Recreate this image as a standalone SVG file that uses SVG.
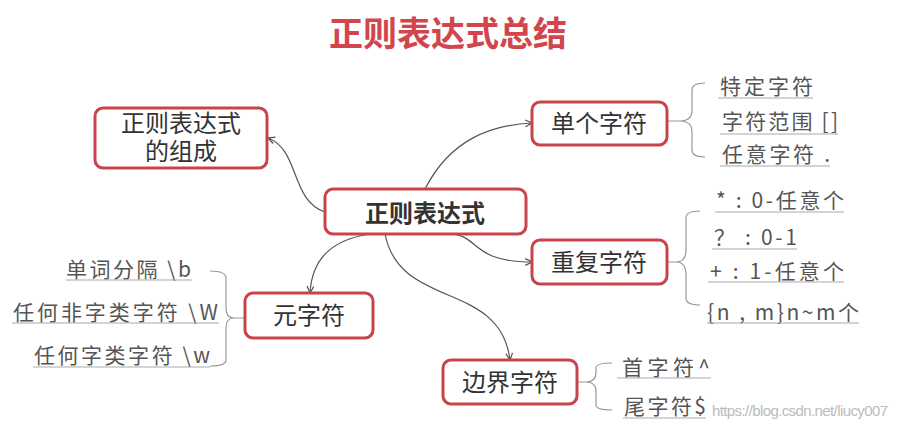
<svg xmlns="http://www.w3.org/2000/svg" width="897" height="428" viewBox="0 0 897 428">
<defs>
<marker id="a" viewBox="0 0 10 10" refX="9" refY="5" markerWidth="7" markerHeight="7" orient="auto"><path d="M1,1 L9,5 L1,9" fill="none" stroke="#555" stroke-width="1.5"/></marker>
<style>
.n{fill:#fff;stroke:#c9434b;stroke-width:3}
.t{font-family:"Noto Sans CJK SC","Noto Sans",sans-serif;fill:#333;font-size:24px;text-anchor:middle}
.l{font-family:"Noto Sans CJK SC","Noto Sans",sans-serif;fill:#555;font-size:21px}
.u{stroke:#aaa;stroke-width:1.2}
.c{fill:none;stroke:#555;stroke-width:1.2}
.b{fill:none;stroke:#999;stroke-width:1.2}
</style>
</defs>
<rect width="897" height="428" fill="#fff"/>
<text x="448" y="46" font-family="'Noto Sans CJK SC',sans-serif" font-size="34" font-weight="bold" fill="#d2454d" text-anchor="middle">正则表达式总结</text>
<g id="connectors">
<path class="c" d="M325,212 C290,200 300,150 268,138" marker-end="url(#a)"/>
<path class="c" d="M425,189 C450,140 490,125 532,123" marker-end="url(#a)"/>
<path class="c" d="M450,234 C480,235 470,262 532,262" marker-end="url(#a)"/>
<path class="c" d="M370,234 C330,240 312,260 310,293" marker-end="url(#a)"/>
<path class="c" d="M385,234 C400,310 500,280 510,360" marker-end="url(#a)"/>
<path class="b" d="M667,121 H680 Q692,121 692,110 V90 Q692,83 705,83 M680,121 Q692,121 692,132 V150 Q692,157 705,157"/>
<path class="b" d="M667,262 H676 Q686,262 686,250 V218 Q686,211 700,211 M676,262 Q686,262 686,275 V298 Q686,305 700,305"/>
<path class="b" d="M577,382 H586 Q596,382 596,372 V368 Q596,363 612,363 M586,382 Q596,382 596,392 V405 Q596,410 612,410"/>
<path class="b" d="M245,318 H234 Q226,318 226,308 V278 Q226,271 210,271 M234,318 Q226,318 226,328 V360 Q226,366 210,366"/>
</g>
<g id="root"><rect class="n" x="325" y="189" width="201" height="45" rx="8"/><text class="t" x="425" y="222" font-weight="bold" font-size="29">正则表达式</text></g>
<g id="zucheng"><rect class="n" x="95" y="108" width="172" height="60" rx="8"/><text class="t" x="181" y="132" font-size="22">正则表达式</text><text class="t" x="181" y="160" font-size="22">的组成</text></g>
<g id="yuan"><rect class="n" x="245" y="293" width="128" height="45" rx="8"/><text class="t" x="309" y="324">元字符</text></g>
<g id="dange"><rect class="n" x="532" y="102" width="135" height="43" rx="8"/><text class="t" x="599" y="132">单个字符</text></g>
<g id="chongfu"><rect class="n" x="532" y="240" width="135" height="44" rx="8"/><text class="t" x="599" y="271">重复字符</text></g>
<g id="bianjie"><rect class="n" x="443" y="360" width="134" height="44" rx="8"/><text class="t" x="510" y="391">边界字符</text></g>
<g id="leaves">
<text class="l" x="720" y="94" textLength="93">特定字符</text><line class="u" x1="718" y1="98" x2="813" y2="98"/>
<text class="l" x="722" y="129" textLength="116">字符范围 []</text><line class="u" x1="720" y1="134" x2="838" y2="134"/>
<text class="l" x="722" y="162" textLength="108">任意字符 .</text><line class="u" x1="720" y1="166" x2="830" y2="166"/>
<text class="l" x="716" y="208" textLength="128">* : 0-任意个</text><line class="u" x1="715" y1="212" x2="844" y2="212"/>
<text class="l" x="714" y="245" textLength="83">？ : 0-1</text><line class="u" x1="712" y1="249" x2="797" y2="249"/>
<text class="l" x="710" y="279" textLength="134">+ : 1-任意个</text><line class="u" x1="708" y1="282" x2="844" y2="282"/>
<text class="l" x="707" y="320" textLength="152">{n , m}n~m个</text><line class="u" x1="707" y1="323" x2="859" y2="323"/>
<text class="l" x="622" y="375" textLength="88">首字符^</text><line class="u" x1="617" y1="378" x2="711" y2="378"/>
<text class="l" x="624" y="414" textLength="82">尾字符$</text><line class="u" x1="623" y1="418" x2="706" y2="418"/>
<text class="l" x="66" y="277" textLength="125">单词分隔 \b</text><line class="u" x1="66" y1="280" x2="192" y2="280"/>
<text class="l" x="13" y="320" textLength="205">任何非字类字符 \W</text><line class="u" x1="12" y1="323" x2="219" y2="323"/>
<text class="l" x="34" y="363" textLength="176">任何字类字符 \w</text><line class="u" x1="33" y1="367" x2="210" y2="367"/>
</g>
<text x="712" y="416" textLength="176" font-family="'Liberation Sans',sans-serif" font-size="15" fill="#bbb">https://blog.csdn.net/liucy007</text>
</svg>
